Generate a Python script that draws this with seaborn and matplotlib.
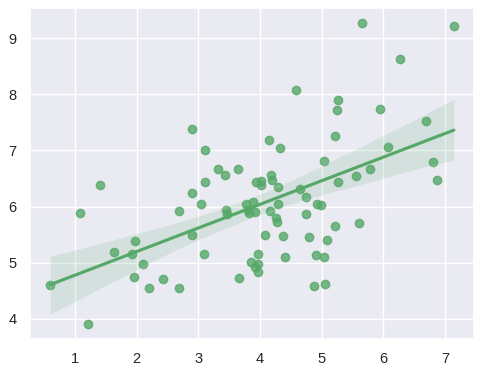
import matplotlib

matplotlib.use("Agg")
import matplotlib.pyplot as plt
import numpy as np
import seaborn as sns

x_vals = [
    0.60, 1.09, 1.41, 1.21, 1.63, 1.97, 1.93, 2.10, 1.95, 2.20,
    2.42, 2.69, 2.68, 2.90, 2.89, 2.89, 3.11, 3.32, 3.44, 3.65,
    4.15, 4.32, 4.58, 5.03, 5.21, 5.24, 5.27, 5.66, 7.14, 6.27,
    5.95, 6.69, 6.08, 6.81, 5.78, 5.56, 5.26, 6.87, 4.98, 4.93,
    5.22, 5.60, 5.08, 5.03, 5.06, 4.87, 4.91, 4.80, 4.75, 4.74,
    4.65, 4.40, 4.37, 4.28, 4.26, 4.16, 4.29, 4.29, 4.19, 4.17,
    4.02, 4.01, 3.94, 3.97, 3.92, 3.97, 3.85, 3.66, 3.97, 4.08,
    3.92, 3.89, 3.82, 3.81, 3.77, 3.47, 3.45, 3.10, 3.04, 3.11,
]
y_vals = [
    4.60, 5.88, 6.39, 3.91, 5.20, 5.38, 5.15, 4.97, 4.75, 4.55,
    4.71, 4.55, 5.93, 6.25, 5.49, 7.38, 7.01, 6.67, 6.57, 6.67,
    7.19, 7.05, 8.08, 6.82, 7.25, 7.73, 7.90, 9.27, 9.22, 8.63,
    7.74, 7.53, 7.07, 6.79, 6.67, 6.55, 6.44, 6.48, 6.02, 6.04,
    5.66, 5.70, 5.41, 5.10, 4.63, 4.58, 5.13, 5.45, 5.86, 6.18,
    6.32, 5.11, 5.47, 5.73, 5.79, 5.93, 6.05, 6.35, 6.48, 6.56,
    6.38, 6.45, 6.44, 4.83, 4.93, 4.98, 5.02, 4.73, 5.16, 5.49,
    5.90, 6.09, 5.88, 5.94, 6.04, 5.86, 5.94, 5.16, 6.04, 6.44,
]

sns.set_theme(color_codes=True)
plt.rcParams["font.family"] = ["Liberation Sans", "DejaVu Sans"]

fig, ax = plt.subplots(figsize=(4.83, 3.74), dpi=100)
sns.regplot(x=np.array(x_vals), y=np.array(y_vals), color="g", ax=ax)
ax.tick_params(labelsize=10.5)

fig.subplots_adjust(left=30 / 483, right=474 / 483, top=1 - 8 / 374, bottom=1 - 339 / 374)
fig.savefig("out.png", dpi=100)
plt.close(fig)
